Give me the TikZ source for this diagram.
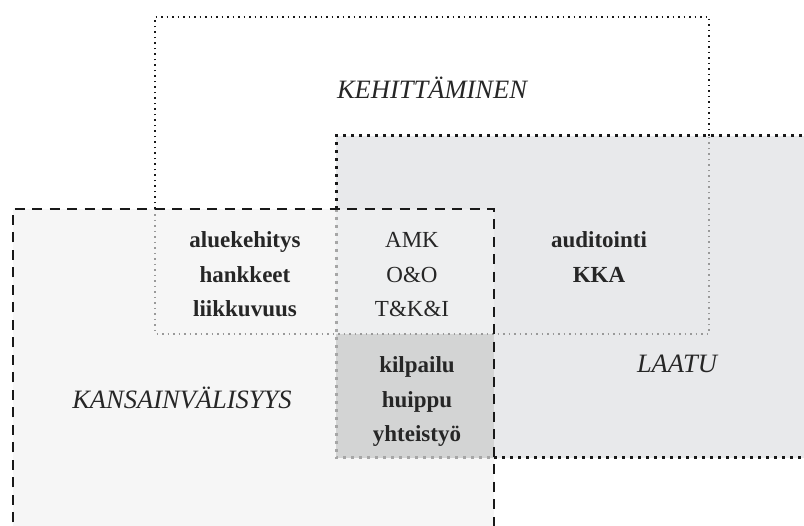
\documentclass[tikz,border=0pt]{standalone}
\usepackage{fontspec}
\setmainfont{Liberation Serif}
\usetikzlibrary{positioning}

\definecolor{kansfill}{HTML}{F6F6F6}
\definecolor{laatufill}{HTML}{E8E9EB}
\definecolor{bothfill}{HTML}{EEEFF0}
\definecolor{corefill}{HTML}{D3D4D4}

\begin{document}
\begin{tikzpicture}[x=1pt,y=-1pt,node distance=14pt]

    \tikzset{
        areaname/.style={
            font=\fontsize{26.5}{30}\selectfont\itshape,
            text=black!85
        },
        word/.style={
            font=\fontsize{23}{27}\selectfont\bfseries,
            text=black!85,
            inner sep=0pt,
            text height=15pt,
            text depth=5pt
        },
        wordplain/.style={
            word,
            font=\fontsize{23}{27}\selectfont
        },
        thindots/.style={line width=1.5pt, dash pattern=on 1.5pt off 4pt},
        bigdots/.style={line width=3pt, dash pattern=on 3pt off 5pt},
        bigdash/.style={line width=2.5pt, dash pattern=on 10pt off 7.5pt}
    }
    \clip (0,0) rectangle (804,526);

    % areas
    \fill[kansfill] (13,209) rectangle (494,540);
    \fill[laatufill] (336,136) rectangle (820,458);
    \fill[bothfill] (336,209) rectangle (494,334);
    \fill[corefill] (336,334) rectangle (494,458);

    % KEHITTAMINEN
    \draw[thindots, black!90] (155,209) -- (155,17) -- (709,17) -- (709,136);
    \draw[thindots, black!40] (155,209) -- (155,334) -- (709,334) -- (709,136);

    % LAATU
    \draw[bigdots, black!90] (336,209) -- (336,136) -- (820,136);
    \draw[bigdots, black!90] (494,458) -- (820,458);
    \draw[bigdots, black!35] (336,209) -- (336,458) -- (494,458);

    % KANSAINVALISYYS
    \draw[bigdash, black!90] (13,540) -- (13,209) -- (494,209) -- (494,540);

    \node[areaname] (keh) at (432,88) {KEHITTÄMINEN};
    \node[areaname] (kan) at (182,398) {KANSAINVÄLISYYS};
    \node[areaname] (laa) at (677,364) {LAATU};

    \node[word] (alue) at (245,243) {aluekehitys};
    \node[word, below=of alue] (hank) {hankkeet};
    \node[word, below=of hank] (liik) {liikkuvuus};

    \node[wordplain] (amk) at (412,243) {AMK};
    \node[wordplain, below=of amk] (oo) {O\&O};
    \node[wordplain, below=of oo] (tki) {T\&K\&I};

    \node[word] (audi) at (599,243) {auditointi};
    \node[word, below=of audi] (kka) {KKA};

    \node[word] (kilp) at (417,368) {kilpailu};
    \node[word, below=of kilp] (huip) {huippu};
    \node[word, below=of huip] (yhte) {yhteistyö};

\end{tikzpicture}
\end{document}
